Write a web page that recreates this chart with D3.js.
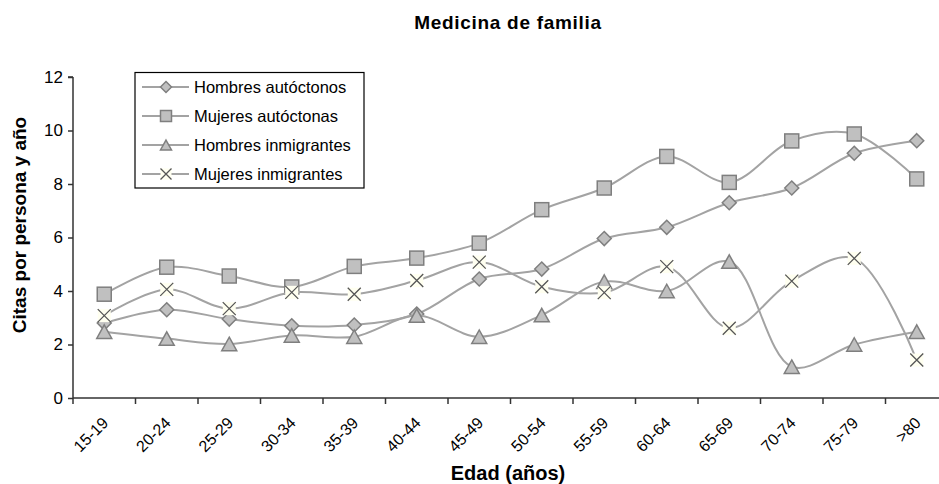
<!DOCTYPE html>
<html><head><meta charset="utf-8">
<script src="https://cdn.jsdelivr.net/npm/d3@7"></script>
<style>body{margin:0;background:#fff}svg{display:block}text{font-family:"Liberation Sans",Arial,sans-serif}</style>
</head><body><div id="chart"></div>
<script>
const categories = ["15-19","20-24","25-29","30-34","35-39","40-44","45-49","50-54","55-59","60-64","65-69","70-74","75-79",">80"];
const hombresAutoctonos = [2.8,3.3,2.95,2.7,2.73,3.14,4.45,4.82,5.96,6.38,7.3,7.85,9.15,9.62];
const mujeresAutoctonas = [3.88,4.89,4.56,4.15,4.92,5.23,5.79,7.04,7.85,9.03,8.06,9.61,9.87,8.19];
const hombresInmigrantes = [2.48,2.22,2.02,2.34,2.29,3.08,2.29,3.1,4.35,4.0,5.1,1.17,2.0,2.48];
const mujeresInmigrantes = [3.08,4.06,3.34,3.95,3.88,4.39,5.08,4.16,3.94,4.91,2.61,4.37,5.22,1.42];
const yTicks = [0,2,4,6,8,10,12];
const seriesNames = ["Hombres autóctonos","Mujeres autóctonas","Hombres inmigrantes","Mujeres inmigrantes"];
const seriesMarkers = ["diamond","square","triangle","x"];

const W = 939, H = 484;
const series = [hombresAutoctonos, mujeresAutoctonas, hombresInmigrantes, mujeresInmigrantes].map((v,i)=>({name:seriesNames[i], marker:seriesMarkers[i], values:v}));

const svg = d3.select("#chart").append("svg").attr("width",W).attr("height",H);
const x = d3.scaleBand().domain(categories).range([73, 948]);
const y = d3.scaleLinear().domain([0,12]).range([398, 77]);

const lineCol = "#a3a3a3", mFill = "#c0c0c0", mStroke = "#7f7f7f", axisCol = "#333";

// title
svg.append("text").attr("x",508).attr("y",29).attr("text-anchor","middle")
  .attr("font-size",19).attr("font-weight","bold").attr("letter-spacing","0.7px").text("Medicina de familia");

// y axis
const gy = svg.append("g").attr("transform","translate(73,0)")
  .call(d3.axisLeft(y).tickValues(yTicks).tickSize(5).tickPadding(5).tickFormat(d3.format("d")));
gy.selectAll("text").attr("font-size",17).attr("fill","#000");
gy.selectAll("line,path").attr("stroke",axisCol).attr("stroke-width",1.5);
gy.select(".domain").attr("d","M0,398V77M-5,77H0");

// x axis
const gx = svg.append("g").attr("transform","translate(0,398)");
gx.append("line").attr("x1",73).attr("x2",W).attr("stroke",axisCol).attr("stroke-width",1.5);
categories.forEach((c)=>{
  gx.append("line").attr("x1",x(c)).attr("x2",x(c)).attr("y1",0).attr("y2",6).attr("stroke",axisCol).attr("stroke-width",1.5);
});
categories.forEach((c)=>{
  const cx = x(c) + x.bandwidth()/2;
  gx.append("text").attr("transform",`translate(${cx+1},${22}) rotate(-45)`)
    .attr("text-anchor","end").attr("dy","0.35em").attr("font-size",16).text(c);
});

// axis titles
svg.append("text").attr("x",508).attr("y",480).attr("text-anchor","middle")
  .attr("font-size",20).attr("font-weight","bold").text("Edad (años)");
svg.append("text").attr("transform","translate(26,225) rotate(-90)").attr("text-anchor","middle")
  .attr("font-size",19).attr("font-weight","bold").text("Citas por persona y año");

function drawMarker(g, type, s){
  if(type==="diamond"){
    g.append("path").attr("d",`M0,${-s}L${s},0L0,${s}L${-s},0Z`).attr("fill",mFill).attr("stroke",mStroke).attr("stroke-width",1.5);
  } else if(type==="square"){
    g.append("rect").attr("x",-s).attr("y",-s).attr("width",2*s).attr("height",2*s).attr("fill",mFill).attr("stroke",mStroke).attr("stroke-width",1.5);
  } else if(type==="triangle"){
    g.append("path").attr("d",`M0,${-s*0.9}L${s},${s*0.9}L${-s},${s*0.9}Z`).attr("fill",mFill).attr("stroke",mStroke).attr("stroke-width",1.5);
  } else {
    g.append("rect").attr("x",-s).attr("y",-s).attr("width",2*s).attr("height",2*s).attr("fill","#fffff0");
    g.append("path").attr("d",`M${-s},${-s}L${s},${s}M${s},${-s}L${-s},${s}`).attr("stroke","#555").attr("stroke-width",1.3).attr("fill","none");
  }
}
const msize = {diamond:7, square:7, triangle:7.5, x:6.5};

const line = d3.line().x((d,i)=>x(categories[i])+x.bandwidth()/2).y(d=>y(d)).curve(d3.curveCatmullRom.alpha(0.5));
series.forEach(s=>{
  const g = svg.append("g");
  g.append("path").attr("d",line(s.values)).attr("fill","none").attr("stroke",lineCol).attr("stroke-width",2);
  s.values.forEach((v,i)=>{
    const mg = g.append("g").attr("transform",`translate(${x(categories[i])+x.bandwidth()/2},${y(v)})`);
    drawMarker(mg, s.marker, msize[s.marker]);
  });
});

// legend
const lg = svg.append("g");
lg.append("rect").attr("x",135).attr("y",72.5).attr("width",229).attr("height",115.5).attr("fill","#fff").attr("stroke","#000").attr("stroke-width",1.2);
series.forEach((s,i)=>{
  const ry = 87 + i*29;
  lg.append("line").attr("x1",142).attr("x2",189).attr("y1",ry).attr("y2",ry).attr("stroke",lineCol).attr("stroke-width",2);
  const mg = lg.append("g").attr("transform",`translate(166,${ry})`);
  drawMarker(mg, s.marker, 5.5);
  lg.append("text").attr("x",194).attr("y",ry+6).attr("font-size",16.5).text(s.name);
});
</script></body></html>
